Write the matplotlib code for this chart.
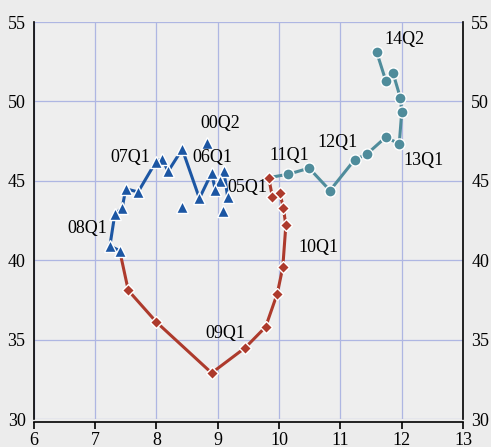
import matplotlib.pyplot as plt

# blue: up to 08
blue_x = [9.16, 9.10, 9.03, 8.96, 8.90, 8.70, 8.42, 8.19, 8.09, 7.99, 7.70, 7.50, 7.44, 7.32, 7.24, 7.40]
blue_y = [44.0, 45.6, 45.0, 44.4, 45.5, 43.9, 47.0, 45.6, 46.4, 46.2, 44.3, 44.5, 43.3, 42.9, 40.9, 40.6]
# earlier quarters shown without a line
early_x = [8.82, 8.42, 9.08]
early_y = [47.4, 43.35, 43.1]

# red: crisis and recovery
red_x = [7.40, 7.54, 8.00, 8.90, 9.45, 9.78, 9.97, 10.06, 10.11, 10.07, 10.01, 9.89, 9.83]
red_y = [40.6, 38.1, 36.1, 32.9, 34.5, 35.8, 37.9, 39.55, 42.2, 43.3, 44.26, 44.0, 45.2]

# teal: 11Q1 onward
teal_x = [9.83, 10.15, 10.49, 10.83, 11.23, 11.43, 11.74, 11.96, 12.00, 11.98, 11.86, 11.74, 11.59]
teal_y = [45.2, 45.42, 45.8, 44.39, 46.32, 46.68, 47.75, 47.33, 49.32, 50.2, 51.77, 51.31, 53.13]

labels = ["00Q2", "05Q1", "06Q1", "07Q1", "08Q1", "09Q1", "10Q1", "11Q1", "12Q1", "13Q1", "14Q2"]
label_x = [8.71, 9.16, 8.58, 7.24, 6.55, 8.79, 10.31, 9.85, 10.62, 12.02, 11.71]
label_y = [48.6, 44.6, 46.5, 46.45, 42.0, 35.4, 40.8, 46.6, 47.4, 46.3, 53.9]

bg = "#ececec"
blue = "#1c56a3"
red = "#ad3a2c"
teal = "#4f8c9b"
grid = "#aeb6e2"

plt.rcParams["font.family"] = ["Liberation Serif", "DejaVu Serif"]
fig = plt.figure(figsize=(4.91, 4.47), dpi=100, facecolor=bg)
ax = fig.add_axes([0.069, 0.0626, 0.874, 0.888])
ax.set_facecolor("#eeeeee")

ax.plot(teal_x, teal_y, color=teal, lw=2.2, marker="o", ms=8,
        mec="white", mew=1, zorder=3, markevery=list(range(1, len(teal_x))))
ax.plot(red_x, red_y, color=red, lw=2.2, marker="D", ms=6,
        mec="white", mew=1, zorder=3, markevery=list(range(1, len(red_x))))
ax.plot(blue_x, blue_y, color=blue, lw=2.2, marker="^", ms=8,
        mec="white", mew=1, zorder=4)
ax.plot(early_x, early_y, ls="none", color=blue, marker="^", ms=8,
        mec="white", mew=1, zorder=4)

for t, x, y in zip(labels, label_x, label_y):
    ax.text(x, y, t, fontsize=13, va="center", ha="left", zorder=5)

ax.set_xlim(6, 13)
ax.set_ylim(30, 55)
ax.set_xticks(range(6, 14))
ax.set_yticks(range(30, 56, 5))
ax.grid(color=grid, lw=0.9)
ax.set_axisbelow(True)

ax.tick_params(axis="x", direction="out", length=5, width=1.2, labelsize=13, pad=2)
ax.tick_params(axis="y", length=0, labelsize=13, labelleft=True, labelright=True, pad=6)
ax.spines["top"].set_visible(False)
ax.spines["bottom"].set_position(("outward", 2))
for s in ["left", "right", "bottom"]:
    ax.spines[s].set_linewidth(1.2)

plt.savefig("out.png", dpi=100, facecolor=bg)
